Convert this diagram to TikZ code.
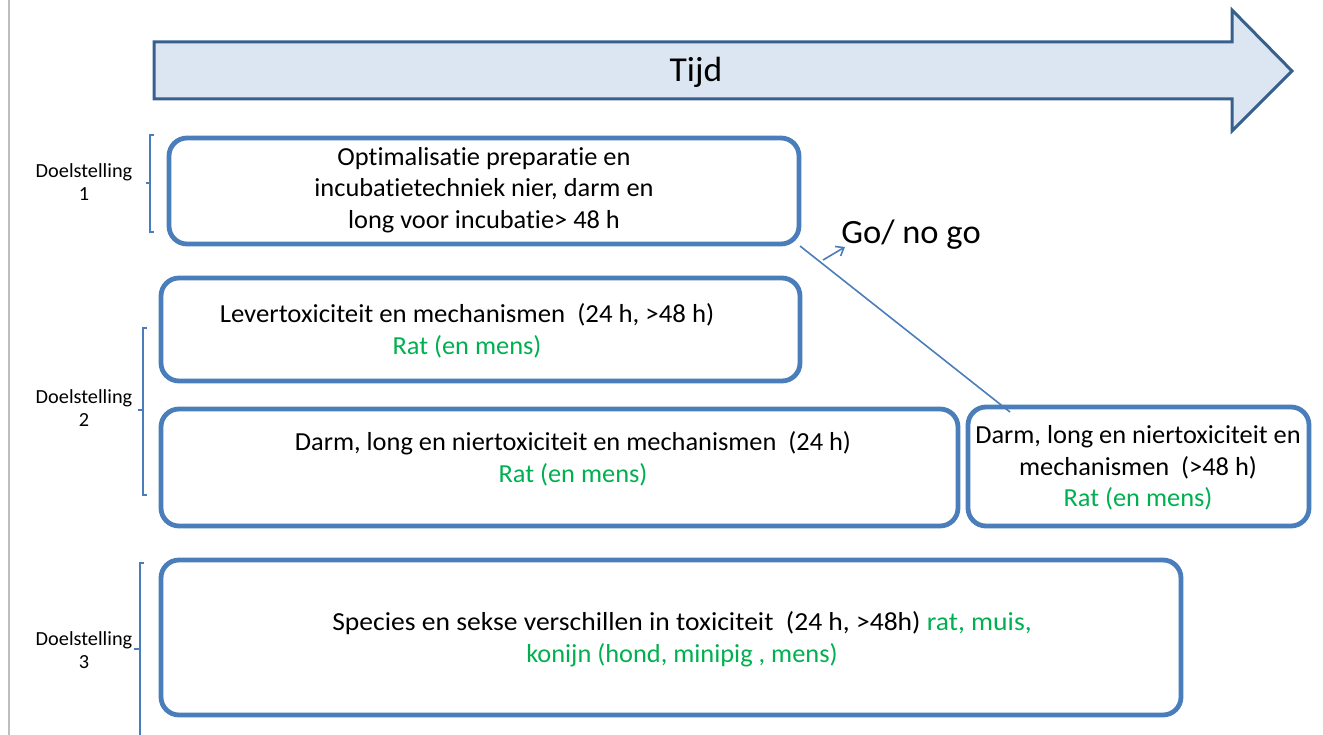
\documentclass[tikz,border=0pt]{standalone}
\usepackage{fontspec}
\setmainfont{Carlito}[Ligatures={NoCommon}, FakeStretch=1.015]
\newfontfamily\widea{Carlito}[Ligatures={NoCommon}, FakeStretch=1.03]
\newfontfamily\wideb{Carlito}[Ligatures={NoCommon}, FakeStretch=1.06]
\usetikzlibrary{arrows.meta}
\definecolor{boxblue}{RGB}{74,126,187}
\definecolor{arrowfill}{RGB}{220,230,242}
\definecolor{arrowdraw}{RGB}{56,96,140}
\definecolor{txtgreen}{RGB}{0,176,80}
\definecolor{leftgray}{RGB}{190,190,190}
\tikzset{
  box/.style={draw=boxblue, line width=4.8pt, rounded corners=18pt, inner sep=0pt},
  boxtext/.style={align=center, font=\fontsize{26}{31.5}\selectfont, inner sep=0pt},
  doel/.style={align=center, font=\fontsize{20}{23.5}\selectfont, inner sep=0pt},
  brack/.style={draw=boxblue, line width=1.5pt},
  thin/.style={draw=boxblue, line width=1.6pt}
}
\begin{document}
\begin{tikzpicture}[x=1pt,y=-1pt]
\useasboundingbox (0,0) rectangle (1323,735);
% left gray line
\coordinate (gt) at (9,0);
\coordinate (gb) at (9,735);
\draw[leftgray, line width=2pt] (gt) -- (gb);
% time arrow
\draw[fill=arrowfill, draw=arrowdraw, line width=3pt, line join=miter]
  (154,42) -- (1232,42) -- (1232,10) -- (1292,71) -- (1232,131) -- (1232,99) -- (154,99) -- cycle;
\node[font=\fontsize{35}{40}\selectfont, inner sep=0pt] (tijd) at (696,72) {Tijd};
% boxes
\node[box, minimum width=630pt, minimum height=106pt] (b1) at (484,191) {};
\node[box, minimum width=639pt, minimum height=103pt] (b2) at (480.5,329.5) {};
\node[box, minimum width=797pt, minimum height=117pt] (b3) at (559.5,467.5) {};
\node[box, minimum width=341pt, minimum height=119pt] (b4) at (1138.5,466.5) {};
\node[box, minimum width=1020pt, minimum height=155pt] (b5) at (671,637.5) {};
% box texts
\node[boxtext] (t1) at (484,190) {Optimalisatie preparatie en\\incubatietechniek nier, darm en\\long voor incubatie> 48 h};
\node[boxtext] (t2) at (467,331) {{\widea Levertoxiciteit en mechanismen~~(24 h, >48 h)}\\\textcolor{txtgreen}{Rat (en mens)}};
\node[boxtext] (t3) at (573,459) {Darm, long en niertoxiciteit en mechanismen~~(24 h)\\\textcolor{txtgreen}{Rat (en mens)}};
\node[boxtext] (t4) at (1138,468) {Darm, long en niertoxiciteit en\\mechanismen~~(>48 h)\\\textcolor{txtgreen}{Rat (en mens)}};
\node[boxtext] (t5) at (682,639) {{\wideb Species en sekse verschillen in toxiciteit~~(24 h, >48h) \textcolor{txtgreen}{rat, muis,}}\\\textcolor{txtgreen}{konijn (hond, minipig , mens)}};
% go / no go
\node[font=\fontsize{34}{40}\selectfont, inner sep=0pt] (go) at (911,235) {Go/ no go};
\coordinate (gs) at (800,246);
\coordinate (ge) at (1010,412);
\draw[thin] (gs) -- (ge);
\coordinate (as) at (823,260);
\coordinate (ae) at (845,247);
\draw[thin, -{Straight Barb[length=7pt,width=11pt]}] (as) -- (ae);
% brackets and labels
\draw[brack] (154,135) -- (150,135) -- (150,232) -- (154,232);
\coordinate (k1a) at (150,183); \coordinate (k1b) at (146,183);
\draw[brack] (k1a) -- (k1b);
\draw[brack] (147,328) -- (143,328) -- (143,495) -- (147,495);
\coordinate (k2a) at (143,410); \coordinate (k2b) at (138,410);
\draw[brack] (k2a) -- (k2b);
\draw[brack] (144,563) -- (140,563) -- (140,735);
\coordinate (k3a) at (140,649); \coordinate (k3b) at (134,649);
\draw[brack] (k3a) -- (k3b);
\node[doel] (d1) at (84,182) {Doelstelling\\1};
\node[doel] (d2) at (84,408) {Doelstelling\\2};
\node[doel] (d3) at (84,650) {Doelstelling\\3};
\end{tikzpicture}
\end{document}
